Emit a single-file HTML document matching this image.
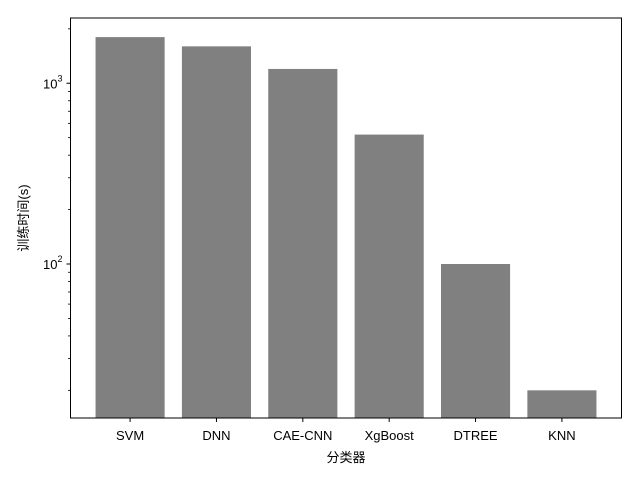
<!DOCTYPE html>
<html><head><meta charset="utf-8"><style>
body{margin:0;background:#fff;}
svg text{font-family:"Liberation Sans","Noto Sans CJK SC",sans-serif;fill:#000;}
</style></head><body>
<svg id="chart" width="640" height="480"></svg>
<script>
const categories=["SVM","DNN","CAE-CNN","XgBoost","DTREE","KNN"];
const values=[1800,1600,1200,520,100,20];
const majorTicks=[100,1000];
const majorLabels=["2","3"];
const minorTicks=[20,30,40,50,60,70,80,90,200,300,400,500,600,700,800,900,2000];
const NS="http://www.w3.org/2000/svg";
const svg=document.getElementById('chart');
const L=70.5,R=621.5,T=18,B=418;
const yMin=1.148,yMax=3.361,xMin=-0.69,xMax=5.69;
const xs=i=>L+(i-xMin)/(xMax-xMin)*(R-L);
const ys=v=>B-(Math.log10(v)-yMin)/(yMax-yMin)*(B-T);
const bw=0.8*(R-L)/(xMax-xMin);
function mk(t,a){const e=document.createElementNS(NS,t);for(const k in a)e.setAttribute(k,a[k]);svg.appendChild(e);return e;}
categories.forEach((c,i)=>{
 const r=mk('rect',{x:xs(i)-bw/2,y:ys(values[i]),width:bw,height:B-ys(values[i]),fill:'#808080'});
 
 
 const t=mk('line',{x1:xs(i),x2:xs(i),y1:B,y2:B+4,stroke:'#000','stroke-width':1});
 
 
 const l=mk('text',{x:xs(i),y:B+22,'text-anchor':'middle','font-size':13});
 l.textContent=c;
 
 
});
minorTicks.forEach(v=>{
 const t=mk('line',{x1:L-2.5,x2:L,y1:ys(v),y2:ys(v),stroke:'#000','stroke-width':0.8});
 
 
});
majorTicks.forEach((v,i)=>{
 const t=mk('line',{x1:L-4,x2:L,y1:ys(v),y2:ys(v),stroke:'#000','stroke-width':1});
 
 
 const l=mk('text',{x:L-13,y:ys(v)+5,'text-anchor':'end','font-size':13});
 l.textContent='10';
 
 
 const s=mk('text',{x:L-13,y:ys(v)-2,'text-anchor':'start','font-size':9});
 s.textContent=majorLabels[i];
 
 
});
const f=mk('rect',{x:L,y:T,width:R-L,height:B-T,fill:'none',stroke:'#000','stroke-width':1});


const xt=mk('text',{x:(L+R)/2,y:462,'text-anchor':'middle','font-size':13});
xt.textContent='分类器';


const yt=mk('text',{x:0,y:0,'text-anchor':'middle','font-size':13,transform:'translate(28,218) rotate(-90)'});
yt.textContent='训练时间(s)';


</script>
</body></html>
